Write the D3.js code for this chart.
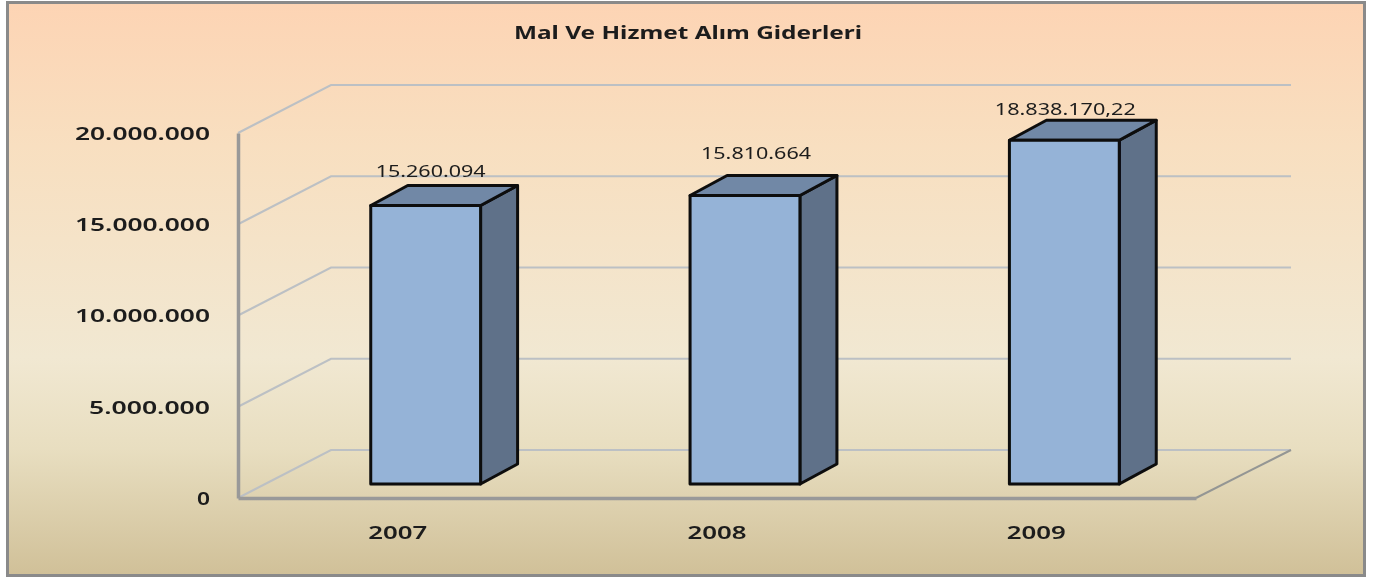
<!DOCTYPE html>
<html>
<head>
<meta charset="utf-8">
<script src="https://cdn.jsdelivr.net/npm/d3@7"></script>
<style>
html,body{margin:0;padding:0;background:#fff;overflow:hidden}
text{font-family:"Noto Sans",sans-serif;fill:#1c1c1c}
</style>
</head>
<body>
<div id="chart"></div>
<script>
// values
var years=['2007','2008','2009'];
var values=[15260094,15810664,18838170.22];
var valueLabels=['15.260.094','15.810.664','18.838.170,22'];
var yTicks=[0,5000000,10000000,15000000,20000000];
var chartTitle='Mal Ve Hizmet Alım Giderleri';

var width=1380,
    height=578,
    wallDx=93,wallDy=48,   // depth of the 3d walls
    backExtra=2,           // back wall runs a bit further than the floor
    barDx=37,barDy=20,     // depth of a bar
    gapDx=28,gapDy=14;     // front of bar behind the axis plane

var x=d3.scaleBand().domain(years).range([238,1196]).paddingInner(0.656).paddingOuter(0.328);
var y=d3.scaleLinear().domain([0,20000000]).range([498,133]);

var svg=d3.select('#chart').append('svg')
    .attr('width',width)
    .attr('height',height)
    .style('display','block');

var defs=svg.append('defs');
var grad=defs.append('linearGradient').attr('id','bg').attr('x1',0).attr('x2',0).attr('y1',0).attr('y2',1);
[[0,'#fdd4b4'],[0.25,'#f8dfc0'],[0.62,'#f1e8d2'],[0.78,'#e8dec0'],[1,'#d0c098']].forEach(function(s){
    grad.append('stop').attr('offset',s[0]).attr('stop-color',s[1]);
});
defs.append('filter').attr('id','soft')
    .attr('filterUnits','userSpaceOnUse')
    .attr('x',0).attr('y',0).attr('width',width).attr('height',height)
    .append('feGaussianBlur').attr('stdDeviation',0.5);

// the original text is stretched sideways, fit it to the width seen there
function fitTo(sel,target){
    sel.attr('textLength',target).attr('lengthAdjust','spacingAndGlyphs');
}

// frame and background
svg.append('rect')
    .attr('x',7.5).attr('y',2.5)
    .attr('width',1357).attr('height',573)
    .attr('fill','url(#bg)')
    .attr('stroke','#8a8a8a').attr('stroke-width',3);

var layer1=svg.append('g').attr('filter','url(#soft)');//walls
var layer2=svg.append('g').attr('filter','url(#soft)');//bars
var layer3=svg.append('g').attr('filter','url(#soft)');//text

// gridlines on side and back wall
layer1.selectAll('.grid')
    .data(yTicks)
  .enter().append('path')
    .attr('class','grid')
    .attr('fill','none')
    .attr('stroke','#bcc0c4')
    .attr('stroke-width',2)
    .attr('d',function(d){
        var p=d3.path();
        p.moveTo(x.range()[0],y(d));
        p.lineTo(x.range()[0]+wallDx,y(d)-wallDy);
        p.lineTo(x.range()[1]+wallDx+backExtra,y(d)-wallDy);
        return p.toString();
    });

// floor edge on the right
layer1.append('line')
    .attr('x1',x.range()[1]).attr('y1',y(0))
    .attr('x2',x.range()[1]+wallDx+backExtra).attr('y2',y(0)-wallDy)
    .attr('stroke','#949694').attr('stroke-width',2);

// axes
var yAxis=d3.axisLeft(y)
    .tickValues(yTicks)
    .tickSize(0)
    .tickPadding(28)
    .tickFormat(function(d){return d3.format(',')(d).replace(/,/g,'.')});
var gy=layer1.append('g').attr('transform','translate('+x.range()[0]+',0)').call(yAxis);
gy.select('.domain').attr('stroke','#999').attr('stroke-width',3.5);
gy.selectAll('text').attr('font-size',18).attr('font-weight',600).attr('dy','0.35em')
    .style('font-family','"Noto Sans"').attr('fill','#1c1c1c');

var xAxis=d3.axisBottom(x).tickSize(0).tickPadding(28);
var gx=layer1.append('g').attr('transform','translate(0,'+y(0)+')').call(xAxis);
gx.select('.domain').attr('stroke','#999').attr('stroke-width',3.5);
gx.selectAll('text').attr('font-size',18).attr('font-weight',600)
    .style('font-family','"Noto Sans"').attr('fill','#1c1c1c');

// bars
var bars=layer2.selectAll('.bar')
    .data(values)
  .enter().append('g')
    .attr('class','bar')
    .attr('stroke','#0d0d0d')
    .attr('stroke-width',3)
    .attr('stroke-linejoin','round');

function barLeft(i){return x(years[i])+gapDx}
function barBase(){return y(0)-gapDy}
function barTop(d){return y(d)-gapDy}

bars.append('path') // side
    .attr('fill','#5f7189')
    .attr('d',function(d,i){
        var r=barLeft(i)+x.bandwidth();
        return 'M'+r+','+barBase()+'L'+(r+barDx)+','+(barBase()-barDy)+'L'+(r+barDx)+','+(barTop(d)-barDy)+'L'+r+','+barTop(d)+'Z';
    });
bars.append('path') // top
    .attr('fill','#7188a6')
    .attr('d',function(d,i){
        var l=barLeft(i),r=l+x.bandwidth();
        return 'M'+l+','+barTop(d)+'L'+(l+barDx)+','+(barTop(d)-barDy)+'L'+(r+barDx)+','+(barTop(d)-barDy)+'L'+r+','+barTop(d)+'Z';
    });
bars.append('rect') // front
    .attr('fill','#95b3d7')
    .attr('x',function(d,i){return barLeft(i)})
    .attr('y',function(d){return barTop(d)})
    .attr('width',x.bandwidth())
    .attr('height',function(d){return barBase()-barTop(d)});

// value labels, hand placed above each bar
var labelDx=[5,11,1],labelDy=[-29,-36,-25];
var valTexts=layer3.selectAll('.val')
    .data(values)
  .enter().append('text')
    .attr('class','val')
    .attr('text-anchor','middle')
    .attr('font-size',16)
    .attr('x',function(d,i){return barLeft(i)+x.bandwidth()/2+labelDx[i]})
    .attr('y',function(d,i){return barTop(d)+labelDy[i]})
    .text(function(d,i){return valueLabels[i]});

// title
var titleText=layer3.append('text')
    .attr('x',688).attr('y',39)
    .attr('text-anchor','middle')
    .attr('font-size',18)
    .attr('font-weight',700)
    .text(chartTitle);

fitTo(titleText,348);
valTexts.each(function(d,i){fitTo(d3.select(this),[110,110,141][i])});
gy.selectAll('text').each(function(d){fitTo(d3.select(this),d===0?13:(d<10000000?121:135))});
gx.selectAll('text').each(function(){fitTo(d3.select(this),59)});
</script>
</body>
</html>
